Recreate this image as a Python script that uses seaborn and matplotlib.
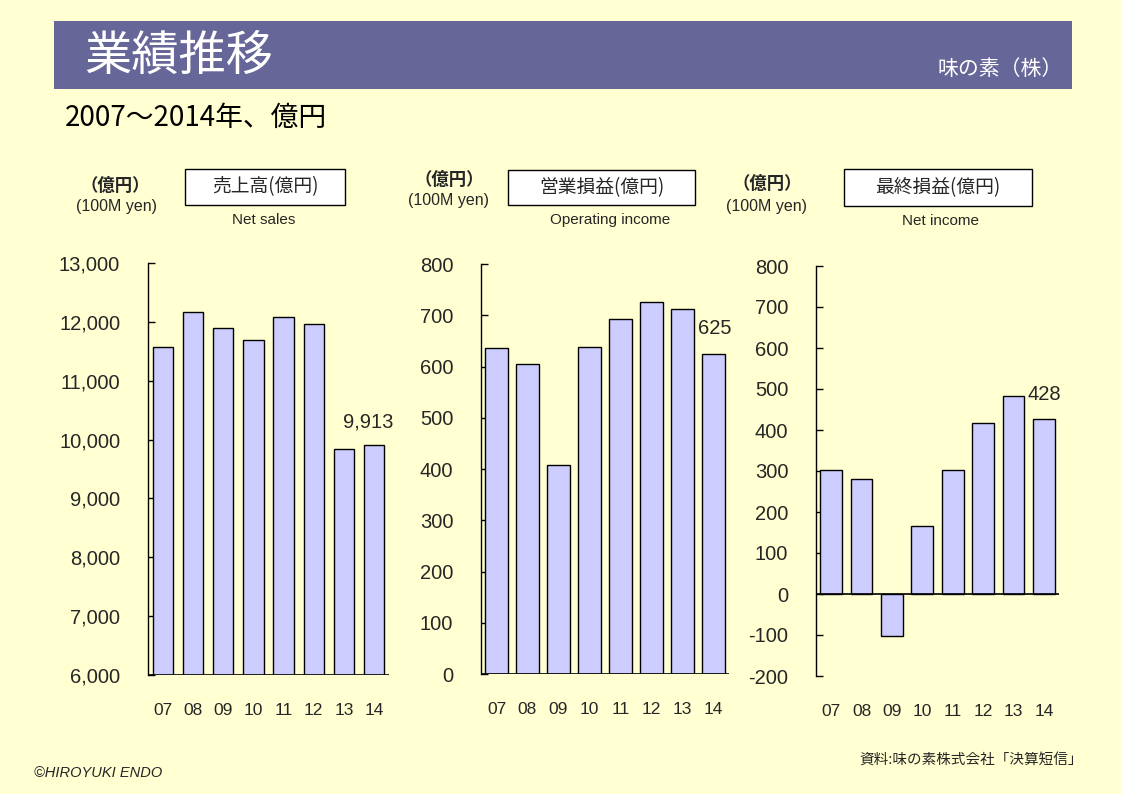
import numpy as np
import matplotlib
matplotlib.use("Agg")
import matplotlib.pyplot as plt
from matplotlib.patches import Rectangle
import seaborn as sns

# ----- Dati (億円) -----
years = ["07", "08", "09", "10", "11", "12", "13", "14"]
net_sales = [11574, 12167, 11896, 11698, 12083, 11970, 9844, 9913]
operating_income = [637, 605, 407, 639, 693, 726, 712, 625]
net_income = [302, 281, -103, 165, 302, 416, 482, 428]

sales_ticks = list(range(6000, 13001, 1000))
op_ticks = list(range(0, 801, 100))
ni_ticks = list(range(-200, 801, 100))

W, H = 1121, 794
BG = "#FFFFD2"
BAR = "#CCCCFF"
JP = ["Noto Sans CJK JP", "DejaVu Sans"]
LAT = ["Liberation Sans", "DejaVu Sans"]

sns.set_theme(style="white")
plt.rcParams["font.family"] = JP


def fx(x):
    return x / W


def fy(y):
    return 1 - y / H


fig = plt.figure(figsize=(W / 100, H / 100), dpi=100, facecolor=BG)

# ----- Intestazione -----
fig.patches.append(Rectangle((fx(54), fy(89)), 1018 / W, 68 / H, transform=fig.transFigure,
                             facecolor="#666699", edgecolor="none", zorder=0))
fig.text(fx(84), fy(57), "業績推移", color="white", fontsize=34, ha="left", va="center", family=JP)
fig.text(fx(1063), fy(69), "味の素（株）", color="white", fontsize=15, ha="right", va="center", family=JP)
fig.text(fx(65), fy(118), "2007～2014年、億円", color="black", fontsize=20, ha="left", va="center", family=JP)


def header(unit_xy, yen_xy, box, title, sub, sub_xy):
    fig.text(fx(unit_xy[0]), fy(unit_xy[1]), "（億円）", fontsize=12.5, fontweight="bold",
             ha="center", va="center", family=JP)
    fig.text(fx(yen_xy[0]), fy(yen_xy[1]), "(100M yen)", fontsize=11.5, ha="center", va="center", family=LAT)
    x0, y0, x1, y1 = box
    fig.patches.append(Rectangle((fx(x0), fy(y1)), (x1 - x0) / W, (y1 - y0) / H, transform=fig.transFigure,
                                 facecolor="white", edgecolor="black", linewidth=1))
    fig.text(fx((x0 + x1) / 2), fy((y0 + y1) / 2), title, fontsize=13.5, ha="center", va="center", family=JP)
    fig.text(fx(sub_xy[0]), fy(sub_xy[1]), sub, fontsize=11, ha="center", va="center", family=LAT)


header((115, 186), (117, 207), (185, 169, 345, 205), "売上高(億円)", "Net sales", (264, 220))
header((449, 180), (449, 201), (508, 170, 695, 205), "営業損益(億円)", "Operating income", (610, 220))
header((767, 184), (767, 206), (844, 169, 1032, 206), "最終損益(億円)", "Net income", (940, 221))


# ----- Grafici -----
def bar_panel(rect, values, ticks, width, fmt, label, offset):
    left, top, right, bottom = rect
    ax = fig.add_axes([fx(left), fy(bottom), (right - left) / W, (bottom - top) / H])
    ax.set_facecolor(BG)
    sns.barplot(x=years, y=values, ax=ax, color=BAR, saturation=1, edgecolor="black",
                linewidth=1, width=width, zorder=2)
    ax.set_xlim(-0.5, len(years) - 0.5)
    ax.set_ylim(ticks[0], ticks[-1])
    ax.set_yticks(ticks)
    ax.set_yticklabels([fmt(t) for t in ticks], family=LAT, fontsize=14.5)
    ax.set_xticks(range(len(years)))
    ax.set_xticklabels(years, family=LAT, fontsize=12.5)
    ax.tick_params(axis="y", direction="in", length=5, width=1, color="black", pad=20, left=True)
    ax.tick_params(axis="x", length=0, pad=20)
    ax.set_xlabel("")
    ax.set_ylabel("")
    for s in ["top", "right", "bottom"]:
        ax.spines[s].set_visible(False)
    ax.spines["left"].set_color("black")
    ax.spines["left"].set_linewidth(1)
    # linea dello zero (o base) sempre in nero
    ax.axhline(max(ticks[0], 0), color="black", linewidth=1.2, zorder=3)
    ax.annotate(label, xy=(len(years) - 1, values[-1]), xytext=offset, textcoords="offset points",
                ha="center", va="center", fontsize=14.5, family=LAT)
    ax.grid(False)
    return ax


bar_panel((148, 263, 389, 675), net_sales, sales_ticks, 0.67, lambda t: f"{t:,}",
          f"{net_sales[-1]:,}", (-4, 16.5))
bar_panel((481, 264, 729, 674), operating_income, op_ticks, 0.77, lambda t: f"{t}",
          f"{operating_income[-1]}", (1, 18))
bar_panel((816, 266, 1059, 676), net_income, ni_ticks, 0.72, lambda t: f"{t}",
          f"{net_income[-1]}", (0, 17))

# ----- Piè di pagina -----
fig.text(fx(34), fy(773), "©HIROYUKI ENDO", fontsize=10.5, style="italic", ha="left", va="center", family=LAT)
fig.text(fx(1083), fy(760), "資料:味の素株式会社「決算短信」", fontsize=10.5, ha="right", va="center", family=JP)

fig.savefig("out.png", dpi=100, facecolor=BG)
